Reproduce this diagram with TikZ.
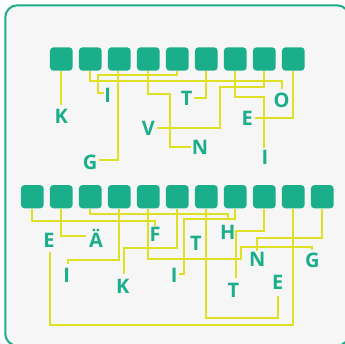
\documentclass[tikz,border=0pt]{standalone}
\usepackage{fontspec}
\newfontfamily\lblfont{Open Sans}
\definecolor{teal}{RGB}{27,174,139}
\definecolor{wirecol}{RGB}{222,225,35}
\definecolor{bgcol}{RGB}{246,246,246}
\tikzset{
  tile/.style={fill=teal, draw=none, rounded corners=3.5pt, minimum width=22.7pt, minimum height=23.3pt, inner sep=0pt},
  lbl/.style={text=teal, font=\lblfont\bfseries\fontsize{20}{24}\selectfont, inner sep=0pt, outer sep=0pt, anchor=base},
  wire/.style={draw=wirecol, line width=2pt}
}
\begin{document}
\begin{tikzpicture}[x=1pt,y=-1pt]
\useasboundingbox (0,0) rectangle (345,344);
\clip (0,0) rectangle (345,344);
\fill[white] (0,0) rectangle (345,344);
\draw[teal, line width=2pt, fill=bgcol, rounded corners=12pt] (5.3,5.3) rectangle (349,345.7);

% top tiles
\foreach \i in {1,...,9} {
  \node[tile] (t\i) at ({61.3+29*(\i-1)},59) {};
}
% bottom tiles
\foreach \i in {1,...,11} {
  \node[tile] (b\i) at ({32.3+29*(\i-1)},196.7) {};
}

% top labels
\node[lbl] (lK)  at (61.3,124) {K};
\node[lbl] (lI1) at (107.7,102.5) {I};
\node[lbl] (lT1) at (186.7,105.5) {T};
\node[lbl] (lO)  at (281.7,108) {O};
\node[lbl] (lV)  at (148.3,135.5) {V};
\node[lbl] (lE1) at (247.3,125.5) {E};
\node[lbl] (lN)  at (200,155) {N};
\node[lbl] (lG)  at (90,170) {G};
\node[lbl] (lI2) at (265,164.5) {I};

% bottom labels
\node[lbl] (lE2) at (49,247.3) {E};
\node[lbl] (lAe) at (96,247.3) {Ä};
\node[lbl] (lF)  at (155,242) {F};
\node[lbl] (lH)  at (227.7,240) {H};
\node[lbl] (lT2) at (196,250.5) {T};
\node[lbl] (lI3) at (66.7,282.3) {I};
\node[lbl] (lK2) at (122.7,294) {K};
\node[lbl] (lI4) at (174.3,282.3) {I};
\node[lbl] (lN2) at (257.3,266.5) {N};
\node[lbl] (lG2) at (312.3,267.5) {G};
\node[lbl] (lT3) at (233.3,298) {T};
\node[lbl] (lE3) at (277.7,290) {E};

% top connectors
\draw[wire] (t1.south) -- ([yshift=5pt]lK.north);
\draw[wire] (t2.south) -- ++(0,10) -| ([yshift=4.3pt]lO.north);
\draw[wire] ([xshift=-1.8pt]t3.south) |- ([xshift=2pt,yshift=2.6pt]lG.east);
\draw[wire] (t4.south) -- ++(0,23.6) -- ++(21.7,0) |- ([xshift=-1pt,yshift=1.3pt]lN.west);
\draw[wire] (t5.south) -- ++(0,4.35) -- ++(-79,0) |- ([yshift=2.3pt]lI1.west);
\draw[wire] (t6.south) |- ([xshift=2pt,yshift=0.8pt]lT1.east);
\draw[wire] (t7.south) -- ++(0,26.65) -| ([xshift=-0.7pt,yshift=2.5pt]lI2.north);
\draw[wire] (t8.south) -- ++(0,16.65) -- ++(-44.3,0) |- ([xshift=2.6pt,yshift=0.3pt]lV.east);
\draw[wire] (t9.south) |- ([xshift=2pt,yshift=0.6pt]lE1.east);

% bottom connectors
\draw[wire] (b1.south) -- ++(0,12.35) -| ([yshift=1.7pt]lF.north);
\draw[wire] (b2.south) |- ([xshift=-3pt,yshift=2.4pt]lAe.west);
\draw[wire] (b3.south) -- ++(0,5) -| ([yshift=5.7pt]lH.north);
\draw[wire] (b4.south) -- ++(0,51) -| ([xshift=1pt,yshift=4.4pt]lI3.north);
\draw[wire] (b5.south) -- ++(0,50) -| (241,247.3) -| ([yshift=3pt]lG2.north);
\draw[wire] (b6.south) -- ++(0,39) -| ([xshift=1.6pt,yshift=5.3pt]lK2.north);
\draw[wire] (b7.south) -- ++(0,109.35) -| ([yshift=-5.7pt]lE3.south);
\draw[wire] (b8.south) -- ++(0,10) -- ++(-51,0) |- ([xshift=1pt,yshift=1pt]lI4.east);
\draw[wire] (b9.south) -- ++(0,22.65) -| ([xshift=2.4pt,yshift=6pt]lT3.north);
\draw[wire] (b10.south) -- ++(0,116) -| ([xshift=1pt,yshift=-4.4pt]lE2.south);
\draw[wire] (b11.south) -- ++(0,29) -| ([yshift=1.7pt]lN2.north);
\end{tikzpicture}
\end{document}
